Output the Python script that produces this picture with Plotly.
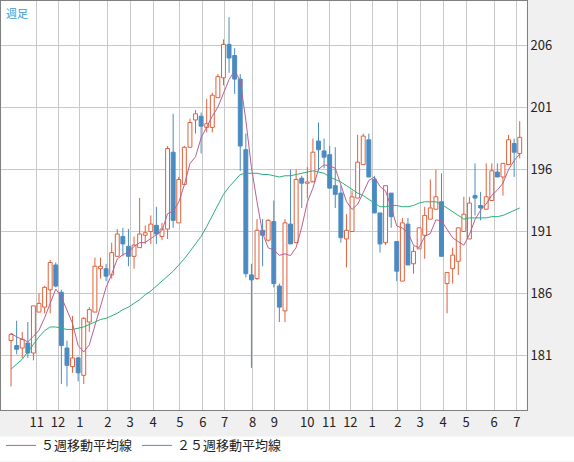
import pandas as pd
import plotly.graph_objects as go

# weekly OHLC, oldest first
opens = [182.2, 181.8, 181.6, 182.0, 181.2, 184.5, 184.9, 186.3, 188.3, 186.1,
         181.6, 180.1, 180.8, 179.4, 183.7, 184.5, 188.0, 188.0, 187.5, 189.0,
         190.6, 189.8, 189.0, 189.7, 190.7, 191.0, 191.5, 190.6, 191.2, 197.4,
         191.7, 194.8, 197.8, 200.0, 200.3, 199.4, 199.4, 201.8, 203.4, 206.1,
         205.2, 203.3, 197.6, 187.5, 187.2, 191.1, 190.3, 191.8, 186.6, 184.6,
         191.6, 190.1, 195.3, 194.9, 195.0, 198.3, 197.5, 197.2, 194.7, 194.1,
         190.4, 191.0, 193.7, 196.4, 198.4, 195.2, 192.5, 190.1, 194.1, 190.2,
         187.0, 191.6, 188.4, 189.6, 190.7, 192.0, 192.8, 193.4, 186.8, 188.0,
         188.6, 191.0, 190.4, 193.9, 193.1, 192.8, 193.5, 195.8, 195.4, 196.4,
         198.1, 197.3]
highs = [182.8, 183.8, 182.9, 183.7, 185.0, 186.0, 186.6, 188.7, 188.5, 186.3,
         182.2, 184.2, 180.9, 184.1, 184.9, 188.9, 188.9, 188.4, 190.1, 191.2,
         191.3, 191.2, 190.6, 193.7, 191.5, 192.3, 193.0, 191.7, 197.9, 200.5,
         195.4, 197.9, 200.1, 200.8, 200.6, 201.7, 202.2, 203.7, 206.5, 208.3,
         205.8, 203.7, 198.9, 188.4, 192.0, 192.0, 192.0, 193.5, 186.8, 192.0,
         196.0, 196.0, 195.5, 196.2, 198.5, 199.8, 198.5, 197.9, 197.8, 194.7,
         192.4, 194.3, 198.8, 198.9, 198.9, 195.5, 192.5, 194.7, 194.1, 190.2,
         192.1, 192.1, 189.8, 191.3, 193.0, 195.2, 196.0, 195.7, 187.7, 189.7,
         191.3, 193.8, 193.8, 196.5, 194.2, 196.5, 196.5, 196.5, 196.5, 198.8,
         198.5, 199.9]
lows = [178.5, 181.1, 180.8, 180.8, 180.6, 184.5, 184.4, 184.4, 186.5, 178.7,
        178.5, 179.6, 178.9, 178.7, 182.9, 184.5, 187.2, 187.0, 187.2, 189.0,
        189.0, 188.2, 188.0, 189.7, 190.0, 190.0, 190.0, 190.3, 190.4, 191.3,
        191.7, 194.8, 197.8, 198.9, 197.3, 199.0, 199.0, 201.8, 202.8, 203.8,
        202.1, 195.9, 187.3, 180.0, 187.1, 188.2, 190.2, 186.5, 183.7, 183.7,
        190.0, 190.1, 192.9, 193.7, 195.1, 195.9, 196.1, 194.5, 192.9, 190.1,
        188.1, 191.0, 193.7, 196.4, 195.4, 192.5, 189.3, 189.9, 191.3, 187.0,
        187.0, 188.3, 187.6, 189.6, 188.8, 192.0, 192.8, 189.0, 184.4, 186.8,
        187.5, 191.0, 190.4, 192.3, 191.9, 192.8, 193.5, 195.4, 193.9, 196.4,
        195.4, 196.9]
closes = [182.7, 181.5, 182.3, 181.2, 185.0, 185.2, 186.5, 188.5, 186.6, 181.8,
          180.2, 180.8, 179.6, 184.0, 184.7, 188.2, 188.2, 187.4, 189.3, 190.8,
          190.0, 189.0, 189.9, 190.8, 190.9, 191.6, 190.8, 191.2, 197.7, 191.9,
          195.2, 197.8, 199.8, 200.5, 199.5, 199.7, 202.0, 203.5, 206.1, 205.0,
          203.3, 197.9, 187.6, 187.1, 191.1, 190.7, 191.9, 186.8, 184.9, 191.7,
          190.0, 195.2, 194.9, 195.0, 197.4, 197.6, 197.0, 194.5, 194.0, 190.5,
          191.1, 193.8, 196.6, 198.7, 195.4, 192.5, 190.0, 194.7, 192.2, 187.8,
          191.7, 188.3, 189.4, 191.3, 192.3, 192.9, 193.8, 189.0, 187.7, 189.1,
          191.3, 192.4, 193.3, 193.7, 192.9, 193.8, 195.9, 195.4, 196.5, 198.4,
          197.4, 198.6]

# 5-week MA for the first weeks (earlier closes are off-chart)
ma5_head = [182.8, 182.5, 182.3, 182.1]
ma25 = [179.9, 180.3, 180.7, 181.3, 181.9, 182.5, 183.0, 183.3, 183.3, 183.2,
        183.1, 183.1, 183.2, 183.3, 183.5, 183.7, 183.9, 184.0, 184.2, 184.4,
        184.7, 184.9, 185.2, 185.5, 185.9, 186.2, 186.6, 187.0, 187.4, 187.8,
        188.3, 188.8, 189.4, 190.0, 190.6, 191.4, 192.3, 193.1, 194.0, 194.6,
        195.1, 195.6, 195.7, 195.7, 195.7, 195.6, 195.6, 195.5, 195.4, 195.5,
        195.5, 195.6, 195.7, 195.8, 195.9, 195.8, 195.7, 195.4, 195.2, 195.0,
        194.7, 194.4, 194.1, 193.9, 193.6, 193.3, 193.0, 193.0, 193.1, 193.1,
        193.0, 193.0, 193.1, 193.3, 193.4, 193.4, 193.4, 193.2, 192.9, 192.6,
        192.3, 192.0, 192.1, 192.1, 192.1, 192.1, 192.2, 192.2, 192.3, 192.5,
        192.7, 192.9]

month_labels = ["11", "12", "1", "2", "3", "4", "5", "6", "7", "8", "9",
                "10", "11", "12", "1", "2", "3", "4", "5", "6", "7"]
month_week_pos = [5.6, 9.4, 13.3, 18.3, 22.3, 26.4, 31.2, 35.3, 39.2, 44.2, 48.1,
                  54.0, 57.9, 61.7, 65.6, 70.2, 74.2, 78.3, 82.4, 87.4, 91.5]

weeks = list(range(1, len(closes) + 1))
ma5 = pd.Series(closes).rolling(5).mean()
ma5[:4] = ma5_head

UP = "#e0603a"
DOWN = "#4a8bc2"
JP = "Noto Sans CJK JP"

fig = go.Figure()

# wicks (above and below the body) and bodies, split by direction
for is_up, color, fill in [(True, UP, "white"), (False, DOWN, DOWN)]:
    idx = [i for i in range(len(closes)) if (closes[i] >= opens[i]) == is_up]
    wx, wy = [], []
    for i in idx:
        top = max(opens[i], closes[i])
        bot = min(opens[i], closes[i])
        wx += [weeks[i], weeks[i], None, weeks[i], weeks[i], None]
        wy += [top, highs[i], None, lows[i], bot, None]
    fig.add_trace(go.Scatter(x=wx, y=wy, mode="lines", line=dict(color=color, width=1),
                             showlegend=False, hoverinfo="skip"))
    fig.add_trace(go.Bar(
        x=[weeks[i] for i in idx],
        base=[min(opens[i], closes[i]) for i in idx],
        y=[max(abs(closes[i] - opens[i]), 0.08) for i in idx],
        width=0.7, marker=dict(color=fill, line=dict(color=color, width=1)),
        showlegend=False, hoverinfo="skip",
    ))

fig.add_trace(go.Scatter(x=weeks, y=ma5, mode="lines", name="５週移動平均線",
                         line=dict(color="#b8608f", width=1)))
fig.add_trace(go.Scatter(x=weeks, y=ma25, mode="lines", name="２５週移動平均線",
                         line=dict(color="#2ab07a", width=1)))

fig.update_layout(
    width=574, height=462, barmode="overlay",
    margin=dict(l=1, r=47, t=1, b=52, autoexpand=False),
    paper_bgcolor="#f0f0f0", plot_bgcolor="white",
    font=dict(family=JP, size=13, color="#222"),
    xaxis=dict(range=[-0.8, 93.3], tickvals=month_week_pos, ticktext=month_labels,
               showgrid=True, gridcolor="#c8c8c8", zeroline=False, ticks="",
               fixedrange=True, showline=True, linecolor="#808080", mirror=True),
    yaxis=dict(range=[176.6, 209.6], side="right", tickvals=[181, 186, 191, 196, 201, 206],
               showgrid=True, gridcolor="#c8c8c8", zeroline=False, ticks="",
               tickfont=dict(size=13, color="#222"),
               showline=True, linecolor="#808080", mirror=True),
    showlegend=True,
    legend=dict(orientation="h", x=0.0, y=-0.05, xanchor="left", yanchor="top",
                bgcolor="rgba(0,0,0,0)", font=dict(size=13, family=JP), itemwidth=30),
    shapes=[dict(type="rect", xref="paper", yref="paper", x0=-0.01, x1=1.1,
                 y0=-0.125, y1=-0.065, fillcolor="white", line=dict(width=0), layer="below")],
    annotations=[dict(text="週足", xref="paper", yref="paper", x=0.005, y=0.995,
                      xanchor="left", yanchor="top", showarrow=False,
                      font=dict(size=11, color="#3a9ad9", family=JP))],
)

fig.write_html("out.html", config={"displayModeBar": False},
               post_script="document.body.style.margin='0';")
